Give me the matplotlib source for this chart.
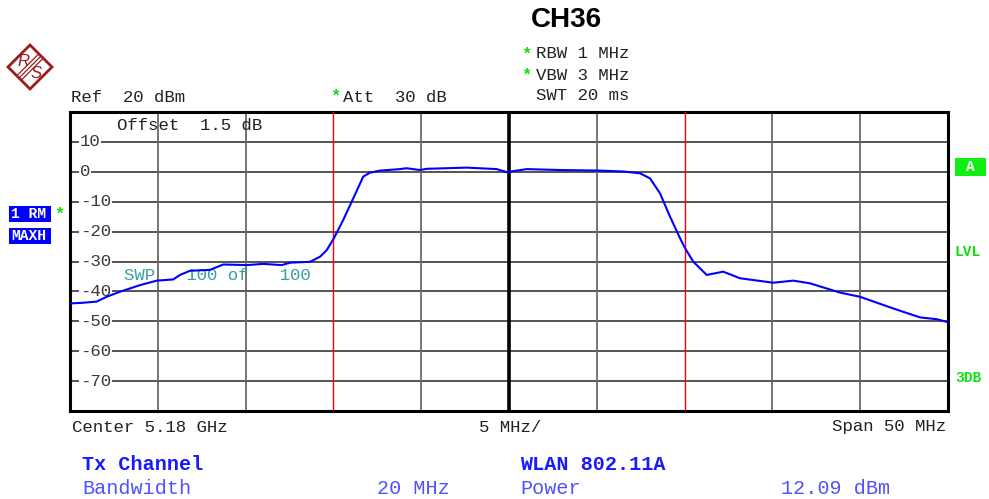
import matplotlib
matplotlib.use("Agg")
import matplotlib.pyplot as plt
from matplotlib.patches import Rectangle, Polygon
from matplotlib.lines import Line2D

# ---- data ----
freq_offset_mhz = [-25.0, -24.90, -24.26, -23.48, -22.91, -22.15, -21.01, -20.06, -19.12,
                   -18.74, -18.17, -17.03, -16.27, -14.94, -13.99, -12.94, -12.47, -11.33,
                   -10.76, -10.38, -9.97, -9.44, -8.87, -8.30, -7.92, -7.35, -6.21, -5.85,
                   -5.07, -4.69, -2.41, -0.70, -0.13, 0.44, 1.01, 2.90, 5.18, 6.51, 7.46,
                   8.03, 8.60, 9.17, 9.74, 10.03, 10.50, 11.26, 12.20, 13.15, 15.05, 16.19,
                   17.14, 18.85, 19.99, 21.88, 23.41, 24.36, 25.0]
level_dbm = [-44.2, -44.0, -43.8, -43.4, -41.8, -40.1, -37.9, -36.4, -36.0,
             -34.5, -33.1, -32.8, -31.0, -31.2, -30.8, -31.2, -30.4, -30.1,
             -28.4, -26.2, -22.2, -16.1, -8.9, -1.6, -0.3, 0.4, 0.9, 1.2,
             0.6, 1.0, 1.4, 0.9, -0.1, 0.4, 0.9, 0.6, 0.4, 0.1, -0.5,
             -2.2, -7.2, -15.0, -22.2, -25.6, -30.1, -34.5, -33.4, -35.6, -37.1, -36.4,
             -37.3, -40.4, -41.8, -45.7, -48.7, -49.3, -50.3]
y_tick_values = [10, 0, -10, -20, -30, -40, -50, -60, -70]
x_grid_mhz = [-20, -15, -10, -5, 0, 5, 10, 15, 20]
channel_edges_mhz = [-10, 10]

W, H = 989, 499
fig = plt.figure(figsize=(W / 100, H / 100), dpi=100)
fig.patch.set_facecolor("white")

def fx(x):
    return x / W

def fy(y):
    return 1 - y / H

# axes placement
L, R, T, B = 70, 948, 112, 411
ax = fig.add_axes([fx(L), fy(B), (R - L) / W, (B - T) / H])
ax.set_xlim(-25, 25)
ax.set_ylim(-80, 20)
ax.set_xticks([])
ax.set_yticks([])
for s in ax.spines.values():
    s.set_linewidth(2.2)
    s.set_color("black")

for v in y_tick_values:
    ax.axhline(v, color="#262626", lw=1.1, zorder=1)
for xv in x_grid_mhz:
    if xv == 0:
        ax.axvline(xv, color="black", lw=2.6, zorder=1)
    elif xv in channel_edges_mhz:
        pass
    else:
        ax.axvline(xv, color="#6a6a6a", lw=1.3, zorder=1)
for xv in channel_edges_mhz:
    ax.axvline(xv, color="#ff0000", lw=1.0, zorder=3)

# tick labels inside the plot
mono = "Liberation Mono"
for v in y_tick_values:
    ax.text(-24.45, v, str(v), family=mono, fontsize=12.5, color="#3a3a3a",
            ha="left", va="center", zorder=2,
            bbox=dict(facecolor="white", edgecolor="none", pad=0.6))

ax.text(-22.3, 15.6, "Offset  1.5 dB", family=mono, fontsize=12.5, color="#222222",
        ha="left", va="center", zorder=2)
ax.text(-21.9, -34.8, "SWP   100 of   100", family=mono, fontsize=12.5,
        color="#3a9e9e", ha="left", va="center", zorder=2)

ax.plot(freq_offset_mhz, level_dbm, color="#0000ff", lw=1.5, zorder=4)

# ---- figure texts ----
def ftext(x, y, s, **kw):
    kw.setdefault("family", mono)
    kw.setdefault("fontsize", 12.5)
    kw.setdefault("color", "#222222")
    kw.setdefault("va", "center")
    kw.setdefault("ha", "left")
    fig.text(fx(x), fy(y), s, **kw)

ftext(566, 20, "CH36", family="Liberation Sans", fontsize=20, weight="bold",
      color="black", ha="center")
green = "#11dd11"
ftext(521, 54, "*", color=green, weight="bold")
ftext(536, 54, "RBW 1 MHz")
ftext(521, 75, "*", color=green, weight="bold")
ftext(536, 75, "VBW 3 MHz")
ftext(536, 96, "SWT 20 ms")
ftext(71, 97, "Ref  20 dBm")
ftext(330, 96, "*", color=green, weight="bold")
ftext(343, 97, "Att  30 dB")

ftext(72, 427, "Center 5.18 GHz")
ftext(479, 427, "5 MHz/")
ftext(946, 427, "Span 50 MHz", ha="right")

blue_b = "#1a1aff"
blue_l = "#5050ff"
ftext(82, 465, "Tx Channel", fontsize=14.5, weight="bold", color=blue_b)
ftext(82, 488, "Bandwidth", fontsize=14.5, color=blue_l)
ftext(450, 488, "20 MHz", fontsize=14.5, color=blue_l, ha="right")
ftext(520, 465, "WLAN 802.11A", fontsize=14.5, weight="bold", color=blue_b)
ftext(520, 488, "Power", fontsize=14.5, color=blue_l)
ftext(890, 488, "12.09 dBm", fontsize=14.5, color=blue_l, ha="right")

# trace info boxes
def fbox(x0, y0, x1, y1, color):
    fig.patches.append(Rectangle((fx(x0), fy(y1)), (x1 - x0) / W, (y1 - y0) / H,
                                 transform=fig.transFigure, facecolor=color,
                                 edgecolor="none", zorder=5))

fbox(9, 206, 51, 222, "#0000ff")
fbox(9, 228, 51, 244, "#0000ff")
ftext(11, 214, "1 RM", color="white", weight="bold", fontsize=10.5, zorder=6)
ftext(11, 236, "MAXH", color="white", weight="bold", fontsize=10.5, zorder=6)
ftext(54, 214, "*", color=green, weight="bold")

fbox(955, 158, 986, 176, "#11ee11")
ftext(970, 167, "A", color="white", weight="bold", fontsize=10.5, ha="center", zorder=6)
ftext(955, 252, "LVL", color=green, weight="bold", fontsize=10.5)
ftext(955, 378, "3DB", color=green, weight="bold", fontsize=10.5)

# R&S logo
logo = "#9b1c1c"
cx, cy, r = 30, 67, 22
pts = [(fx(cx), fy(cy - r)), (fx(cx + r), fy(cy)), (fx(cx), fy(cy + r)), (fx(cx - r), fy(cy))]
fig.patches.append(Polygon(pts, closed=True, transform=fig.transFigure,
                           facecolor="white", edgecolor=logo, lw=2.0))
for d in (-2.2, 0, 2.2):
    fig.lines.append(Line2D([fx(cx + 11 + d), fx(cx - 11 + d)], [fy(cy - 11 + d), fy(cy + 11 + d)],
                            transform=fig.transFigure, color=logo, lw=0.9))
ftext(23, 61, "R", family="Liberation Sans", fontsize=12, color=logo, ha="center",
      style="italic")
ftext(36, 74, "S", family="Liberation Sans", fontsize=12, color=logo, ha="center",
      style="italic")

fig.savefig("out.png", dpi=100, facecolor="white")
